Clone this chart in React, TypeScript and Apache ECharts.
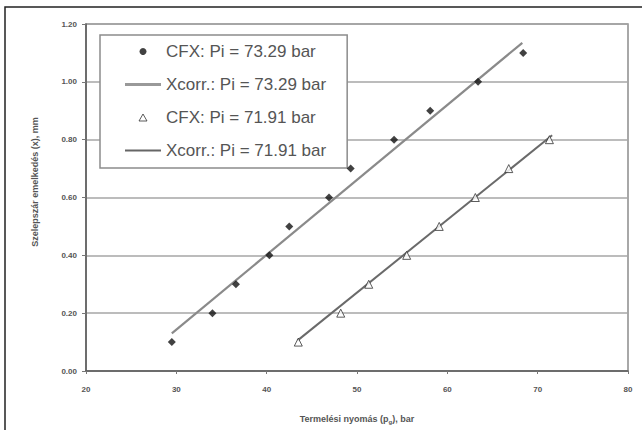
import React, { useEffect, useRef } from "react";
import * as echarts from "echarts";

const cfx7329X = [29.5, 34.0, 36.6, 40.3, 42.5, 46.9, 49.3, 54.1, 58.1, 63.4, 68.4];
const cfx7329Y = [0.1, 0.2, 0.3, 0.4, 0.5, 0.6, 0.7, 0.8, 0.9, 1.0, 1.1];
const xcorr7329X = [29.5, 68.3];
const xcorr7329Y = [0.13, 1.135];
const cfx7191X = [43.5, 48.2, 51.3, 55.5, 59.1, 63.1, 66.8, 71.3];
const cfx7191Y = [0.1, 0.2, 0.3, 0.4, 0.5, 0.6, 0.7, 0.8];
const xcorr7191X = [43.4, 71.6];
const xcorr7191Y = [0.105, 0.815];
const seriesNames = [
  "CFX: Pi = 73.29 bar",
  "Xcorr.: Pi = 73.29 bar",
  "CFX: Pi = 71.91 bar",
  "Xcorr.: Pi = 71.91 bar",
];
const xTitle = "Termelési nyomás (p{sub|g}), bar";
const yTitle = "Szelepszár emelkedés (x), mm";

const zip = (xs: number[], ys: number[]) => xs.map((x, i) => [x, ys[i]]);

export default function App() {
  const ref = useRef<HTMLDivElement>(null);
  useEffect(() => {
    const chart = echarts.init(ref.current!, undefined, { renderer: "svg" });
    const labelStyle = {
      color: "#555",
      fontSize: 8,
      fontWeight: "bold" as const,
      fontFamily: "Liberation Sans, Arial, sans-serif",
    };
    chart.setOption({
      animation: false,
      backgroundColor: "#fff",
      grid: {
        left: 86,
        right: 14,
        top: 24,
        bottom: 56,
        show: true,
        borderColor: "#8c8c8c",
        borderWidth: 1.5,
      },
      xAxis: {
        type: "value",
        min: 20,
        max: 80,
        interval: 10,
        name: xTitle,
        nameLocation: "middle",
        nameGap: 42,
        nameTextStyle: {
          ...labelStyle,
          fontSize: 9,
          rich: {
            sub: { ...labelStyle, fontSize: 6, verticalAlign: "bottom", padding: [6, 0, 0, 0] },
          },
        },
        axisLine: { lineStyle: { color: "#5a5a5a", width: 1.5 } },
        axisTick: { show: true, length: 3, lineStyle: { color: "#777" } },
        axisLabel: { ...labelStyle, margin: 14 },
        splitLine: { show: false },
      },
      yAxis: {
        type: "value",
        min: 0,
        max: 1.2,
        interval: 0.2,
        axisLine: { show: true, lineStyle: { color: "#5a5a5a", width: 1.5 } },
        axisTick: { show: true, length: 4, lineStyle: { color: "#777" } },
        axisLabel: { ...labelStyle, margin: 9, formatter: (v: number) => v.toFixed(2) },
        splitLine: { show: true, lineStyle: { color: "#a6a6a6", width: 1.5 } },
      },
      legend: {
        orient: "vertical",
        left: 100,
        top: 35,
        symbolKeepAspect: true,
        data: [
          { name: seriesNames[0], icon: "circle", itemStyle: { color: "#111" } },
          {
            name: seriesNames[1],
            icon: "path://M0,0H36V3H0Z",
            itemStyle: { color: "#999" },
          },
          {
            name: seriesNames[2],
            icon: "path://M4,0L8,7H0Z",
            itemStyle: { color: "#fff", borderColor: "#333", borderWidth: 1 },
          },
          {
            name: seriesNames[3],
            icon: "path://M0,0H36V2H0Z",
            itemStyle: { color: "#666" },
          },
        ],
        itemWidth: 36,
        itemHeight: 7,
        itemGap: 16,
        padding: [8, 21, 9, 25],
        borderColor: "#8c8c8c",
        borderWidth: 1.5,
        backgroundColor: "#fff",
        textStyle: {
          color: "#555",
          fontSize: 17,
          lineHeight: 14,
          fontFamily: "Liberation Sans, Arial, sans-serif",
        },
      },
      graphic: [
        {
          type: "rect",
          shape: { x: 5, y: 7, width: 700, height: 500 },
          style: { fill: "none", stroke: "#222", lineWidth: 1.5 },
          silent: true,
          z: 100,
        },
        {
          type: "text",
          x: 35,
          y: 182,
          rotation: Math.PI / 2,
          style: {
            text: yTitle,
            ...labelStyle,
            fill: "#555",
            fontSize: 9,
            align: "center",
            verticalAlign: "middle",
          },
        },
      ],
      series: [
        {
          name: seriesNames[0],
          type: "scatter",
          data: zip(cfx7329X, cfx7329Y),
          symbol: "diamond",
          symbolSize: 8,
          itemStyle: { color: "#111" },
          z: 5,
        },
        {
          name: seriesNames[1],
          type: "line",
          data: zip(xcorr7329X, xcorr7329Y),
          symbol: "none",
          lineStyle: { color: "#8a8a8a", width: 2.2 },
          itemStyle: { color: "#8a8a8a" },
          z: 3,
        },
        {
          name: seriesNames[2],
          type: "scatter",
          data: zip(cfx7191X, cfx7191Y),
          symbol: "triangle",
          symbolSize: 8,
          itemStyle: { color: "#fff", borderColor: "#333", borderWidth: 1 },
          z: 5,
        },
        {
          name: seriesNames[3],
          type: "line",
          data: zip(xcorr7191X, xcorr7191Y),
          symbol: "none",
          lineStyle: { color: "#6a6a6a", width: 2 },
          itemStyle: { color: "#6a6a6a" },
          z: 3,
        },
      ],
    });
    return () => chart.dispose();
  }, []);
  return (
    <div
      ref={ref}
      style={{ position: "fixed", left: 0, top: 0, width: 642, height: 430, background: "#fff" }}
    />
  );
}
